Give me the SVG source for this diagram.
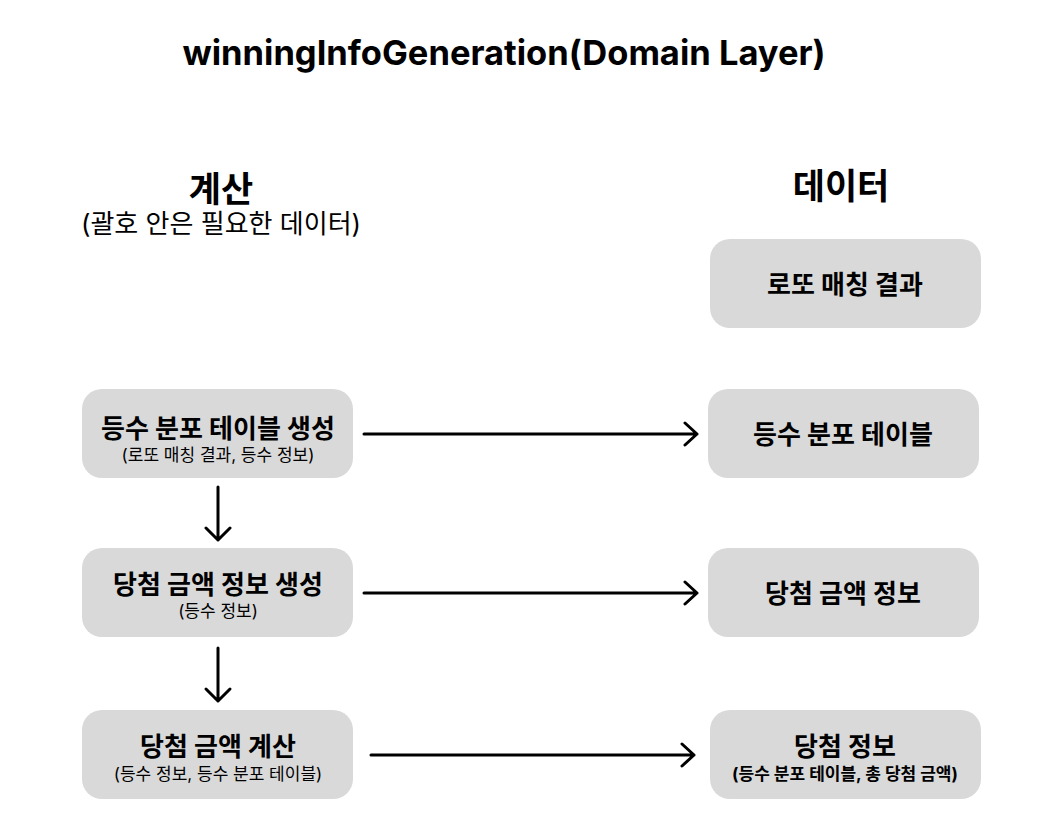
<svg xmlns="http://www.w3.org/2000/svg" width="1054" height="840" viewBox="0 0 1054 840">
<style>
text{font-family:"Inter","Noto Sans CJK KR",sans-serif;fill:#000;text-anchor:middle}
.title{font-size:34.5px;font-weight:700}
.h{font-size:35px;font-weight:700}
.hs{font-size:26px;font-weight:400}
.box{fill:#d9d9d9}
.m{font-size:26px;font-weight:700}
.s{font-size:17px;font-weight:400}
.sb{font-size:17px;font-weight:700}
.c{stroke:#000;stroke-width:3;fill:none;stroke-linecap:round;stroke-linejoin:round}
</style>
<rect width="1054" height="840" fill="#fff"/>
<text class="title" x="504" y="65">winningInfoGeneration(Domain Layer)</text>
<text class="h" x="221" y="202">계산</text>
<text class="hs" x="221" y="233">(괄호 안은 필요한 데이터)</text>
<text class="h" x="841" y="199">데이터</text>

<g id="n-calc1"><rect class="box" x="82" y="389" width="271" height="89" rx="20"/><text class="m" x="218" y="438">등수 분포 테이블 생성</text><text class="s" x="218" y="461">(로또 매칭 결과, 등수 정보)</text></g>
<g id="n-calc2"><rect class="box" x="82" y="548" width="271" height="89" rx="20"/><text class="m" x="218" y="594">당첨 금액 정보 생성</text><text class="s" x="218" y="617">(등수 정보)</text></g>
<g id="n-calc3"><rect class="box" x="82" y="710" width="271" height="89" rx="20"/><text class="m" x="218" y="756">당첨 금액 계산</text><text class="s" x="218" y="780">(등수 정보, 등수 분포 테이블)</text></g>

<g id="n-data0"><rect class="box" x="710" y="239" width="271" height="89" rx="20"/><text class="m" x="845" y="294">로또 매칭 결과</text></g>
<g id="n-data1"><rect class="box" x="708" y="389" width="271" height="89" rx="20"/><text class="m" x="843" y="444">등수 분포 테이블</text></g>
<g id="n-data2"><rect class="box" x="708" y="548" width="271" height="89" rx="20"/><text class="m" x="843" y="603">당첨 금액 정보</text></g>
<g id="n-data3"><rect class="box" x="710" y="710" width="271" height="89" rx="20"/><text class="m" x="845" y="756">당첨 정보</text><text class="sb" x="845" y="780">(등수 분포 테이블, 총 당첨 금액)</text></g>

<g id="connectors">
<path class="c" d="M364 434H697M685 423L697 434L685 445"/>
<path class="c" d="M364 593H697M685 582L697 593L685 604"/>
<path class="c" d="M371 755H694M682 744L694 755L682 766"/>
<path class="c" d="M218 487V540M206 528L218 540L230 528"/>
<path class="c" d="M218 648V701M206 689L218 701L230 689"/>
</g>
</svg>
